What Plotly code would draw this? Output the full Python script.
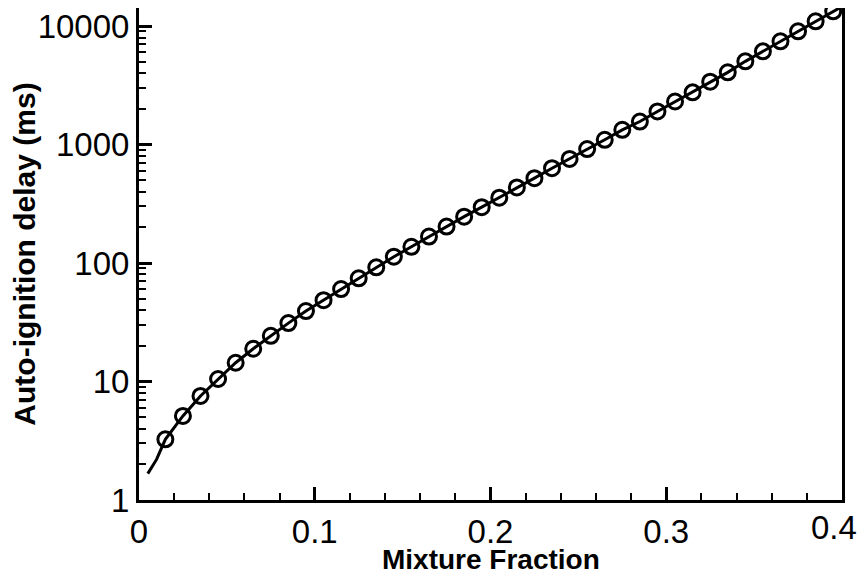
import plotly.graph_objects as go

# Marker data (mixture fraction, auto-ignition delay in ms)
marker_x = [0.015, 0.025, 0.035, 0.045, 0.055, 0.065, 0.075, 0.085, 0.095, 0.105,
            0.115, 0.125, 0.135, 0.145, 0.155, 0.165, 0.175, 0.185, 0.195, 0.205,
            0.215, 0.225, 0.235, 0.245, 0.255, 0.265, 0.275, 0.285, 0.295, 0.305,
            0.315, 0.325, 0.335, 0.345, 0.355, 0.365, 0.375, 0.385, 0.395]
marker_y = [3.25, 5.12, 7.55, 10.5, 14.4, 18.9, 24.3, 31.1, 39.3, 48.6,
            60.3, 74.3, 92, 113, 137, 167, 203, 246, 296, 356,
            434, 520, 631, 755, 916, 1096, 1330, 1563, 1901, 2307,
            2754, 3388, 4064, 5035, 6109, 7430, 9016, 10965, 13300]

# Continuous curve
line_x = [0.005, 0.01] + marker_x + [0.4]
line_y = [1.67, 2.2] + marker_y + [14600]

x_tick_vals = [0, 0.1, 0.2, 0.3, 0.4]
x_tick_text = ["0", "0.1", "0.2", "0.3", "0.4"]
y_tick_vals = [1, 10, 100, 1000, 10000]
y_tick_text = ["1", "10", "100", "1000", "10000"]
y_minor_vals = [m * 10 ** d for d in range(0, 5) for m in range(2, 10)]

x_title = "Mixture Fraction"
y_title = "Auto-ignition delay (ms)"

fig = go.Figure()
fig.add_trace(go.Scatter(x=line_x, y=line_y, mode="lines",
                         line=dict(color="black", width=3), showlegend=False))
fig.add_trace(go.Scatter(x=marker_x, y=marker_y, mode="markers",
                         marker=dict(symbol="circle-open", size=15, color="black",
                                     line=dict(width=3, color="black")),
                         showlegend=False))

font_family = "Liberation Sans, Arial, Helvetica, sans-serif"

# last x tick label drawn as an annotation nudged left so it stays inside the page
fig.add_annotation(x=x_tick_vals[-1], xref="x", y=0, yref="paper",
                   text=x_tick_text[-1], showarrow=False,
                   xanchor="center", yanchor="middle", xshift=-8, yshift=-27,
                   font=dict(family=font_family, size=33, color="black"))
# x-axis title
fig.add_annotation(x=0.5, xref="paper", y=0, yref="paper",
                   text="<b>" + x_title + "</b>", showarrow=False,
                   xanchor="center", yanchor="middle", yshift=-59, borderpad=0,
                   font=dict(family=font_family, size=28, color="black"))

fig.update_layout(
    width=850, height=566,
    margin=dict(l=131, r=16, t=0, b=74, autoexpand=False),
    plot_bgcolor="white", paper_bgcolor="white",
    font=dict(family=font_family, size=33, color="black"),
    xaxis=dict(
        range=[0, 0.4], tickvals=x_tick_vals,
        ticktext=x_tick_text[:-1] + [""],
        ticks="inside", ticklen=13, tickwidth=2.5, tickcolor="black",
        minor=dict(dtick=0.02, ticks="inside", ticklen=7, tickwidth=1.5, tickcolor="black", showgrid=False),
        showline=True, linecolor="black", linewidth=3, mirror=True,
        showgrid=False, zeroline=False, automargin=False,
        ticklabeloverflow="allow",
        tickfont=dict(size=33),
    ),
    yaxis=dict(
        type="log", range=[0, 4.152],
        tickvals=y_tick_vals, ticktext=y_tick_text,
        ticks="inside", ticklen=13, tickwidth=2.5, tickcolor="black",
        minor=dict(tickvals=y_minor_vals, ticks="inside", ticklen=7, tickwidth=1.5, tickcolor="black", showgrid=False),
        showline=True, linecolor="black", linewidth=3, mirror=True,
        showgrid=False, zeroline=False, automargin=False,
        ticklabeloverflow="allow",
        tickfont=dict(size=33),
        title=dict(text="<b>" + y_title + "</b>", font=dict(size=30), standoff=4),
    ),
)

fig.write_html("out.html")
